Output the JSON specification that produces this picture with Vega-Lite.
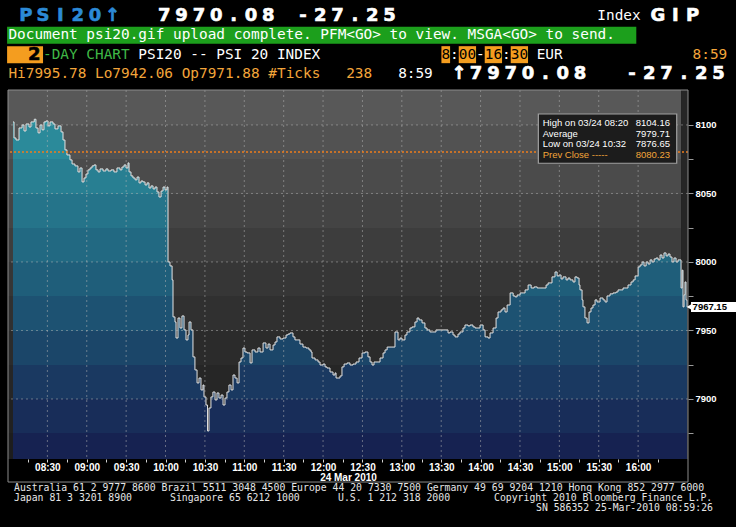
{
"$schema": "https://vega.github.io/schema/vega-lite/v6.json",
"width": 680, "height": 369,
"autosize": {"type": "none"},
"padding": {"left": 8, "top": 90, "right": 48, "bottom": 68},
"background": "#000000",
"config": {
"view": {"stroke": null},
"axisX": {"labelColor": "#ffffff", "labelOpacity": 1, "labelFont": "Liberation Sans", "labelFontSize": 10, "labelFontWeight": "bold", "labelPadding": 0, "tickSize": 3, "tickColor": "#d0d0d0", "domain": false, "titleColor": "#ffffff", "titleFont": "Liberation Sans", "titleFontSize": 10, "titleFontWeight": "bold", "titlePadding": 0, "grid": false},
"axisY": {"labelColor": "#ffffff", "labelFont": "Liberation Sans", "labelFontSize": 9.5, "labelFontWeight": "bold", "labelPadding": 2, "tickSize": 5, "tickColor": "#9a9a9a", "domain": false, "grid": false}
},
"datasets": {
"psi": [
{"t":3.8,"v":8102.2},{"t":4.6,"v":8090.5},{"t":6.1,"v":8089},{"t":8.4,"v":8097.8},{"t":10.7,"v":8100},{"t":12.2,"v":8095.6},{"t":13.7,"v":8100.7},{"t":16,"v":8098.5},{"t":17.5,"v":8102.2},{"t":20,"v":8104.16},{"t":21.3,"v":8097.8},{"t":22.9,"v":8094.2},{"t":24.4,"v":8100},{"t":25.9,"v":8096.4},{"t":27.4,"v":8102.2},{"t":28.9,"v":8102.9},{"t":30.5,"v":8099.3},{"t":32,"v":8102.2},{"t":34.3,"v":8100.7},{"t":35.8,"v":8097.1},{"t":38.1,"v":8099.3},{"t":40.4,"v":8094.9},{"t":41.9,"v":8089},{"t":43.4,"v":8081.8},{"t":44.9,"v":8078.1},{"t":47.2,"v":8074.5},{"t":48.8,"v":8071.5},{"t":51,"v":8070.1},{"t":53.3,"v":8065.7},{"t":54.8,"v":8068.6},{"t":56.4,"v":8058.4},{"t":57.9,"v":8061.3},{"t":59.4,"v":8064.2},{"t":60.9,"v":8067.2},{"t":62.5,"v":8068.6},{"t":64,"v":8070.1},{"t":65.5,"v":8070.8},{"t":67,"v":8067.2},{"t":68.6,"v":8065.7},{"t":70.1,"v":8067.9},{"t":72.4,"v":8066.4},{"t":74.6,"v":8067.9},{"t":76.2,"v":8066.4},{"t":78.5,"v":8067.2},{"t":80.7,"v":8065.7},{"t":83,"v":8068.6},{"t":85.3,"v":8067.2},{"t":86.8,"v":8069.3},{"t":88.4,"v":8070.8},{"t":89.9,"v":8068.6},{"t":91.4,"v":8072.3},{"t":92.2,"v":8065.7},{"t":93.7,"v":8062.8},{"t":95.2,"v":8061.3},{"t":96.8,"v":8059.9},{"t":98.3,"v":8062},{"t":99.8,"v":8057.7},{"t":101.3,"v":8059.1},{"t":102.8,"v":8058.4},{"t":104.4,"v":8056.2},{"t":105.9,"v":8057.7},{"t":107.4,"v":8054},{"t":108.9,"v":8055.5},{"t":110.5,"v":8053.3},{"t":112,"v":8054.7},{"t":113.5,"v":8051.1},{"t":115,"v":8047.4},{"t":116.6,"v":8051.8},{"t":118.1,"v":8054.7},{"t":119.6,"v":8052.6},{"t":121.1,"v":8054.7},{"t":121.9,"v":8000},{"t":123.4,"v":7997.1},{"t":125,"v":7986.9},{"t":125.7,"v":7959.9},{"t":127.2,"v":7956.2},{"t":128,"v":7944.5},{"t":129.5,"v":7959.1},{"t":131,"v":7951.8},{"t":132.5,"v":7960.6},{"t":134.1,"v":7950.4},{"t":135.6,"v":7943.1},{"t":137.1,"v":7946.7},{"t":137.9,"v":7956.2},{"t":139.4,"v":7950.4},{"t":140.9,"v":7930.7},{"t":142.4,"v":7921.2},{"t":144,"v":7911.7},{"t":145.5,"v":7915.3},{"t":147,"v":7906.6},{"t":148.5,"v":7910.2},{"t":149.3,"v":7901.5},{"t":150.8,"v":7895.6},{"t":152,"v":7876.65},{"t":153.1,"v":7893.4},{"t":154.6,"v":7901.5},{"t":156.1,"v":7905.1},{"t":157.7,"v":7899.3},{"t":159.2,"v":7904.4},{"t":160.7,"v":7900.7},{"t":162.3,"v":7902.9},{"t":163.8,"v":7895.6},{"t":165.3,"v":7900.7},{"t":166.8,"v":7905.1},{"t":168.3,"v":7910.2},{"t":169.9,"v":7906.6},{"t":171.4,"v":7917.5},{"t":172.9,"v":7915.3},{"t":174.5,"v":7911.7},{"t":176,"v":7927},{"t":177.5,"v":7929.9},{"t":179,"v":7937.2},{"t":180.5,"v":7934.3},{"t":182.1,"v":7933.6},{"t":184.4,"v":7926.3},{"t":185.9,"v":7935.8},{"t":188.2,"v":7934.3},{"t":190.4,"v":7937.2},{"t":192,"v":7934.3},{"t":194.3,"v":7940.9},{"t":196.5,"v":7937.2},{"t":198.1,"v":7940.1},{"t":199.6,"v":7935.8},{"t":201.9,"v":7939.4},{"t":203.4,"v":7941.6},{"t":204.9,"v":7945.3},{"t":207.2,"v":7943.8},{"t":209.5,"v":7944.5},{"t":211.8,"v":7946.7},{"t":213.3,"v":7947.4},{"t":214.8,"v":7948.2},{"t":217.1,"v":7945.3},{"t":218.6,"v":7943.1},{"t":220.2,"v":7943.1},{"t":222.4,"v":7940.1},{"t":224.7,"v":7937.9},{"t":227,"v":7937.2},{"t":229.3,"v":7935.8},{"t":230.8,"v":7934.3},{"t":231.6,"v":7929.9},{"t":233.9,"v":7928.5},{"t":236.2,"v":7927},{"t":237.7,"v":7924.8},{"t":240,"v":7925.5},{"t":241.5,"v":7923.4},{"t":243,"v":7922.6},{"t":245.3,"v":7919.7},{"t":247.6,"v":7917.5},{"t":249.1,"v":7919},{"t":249.9,"v":7915.3},{"t":251.4,"v":7915.3},{"t":252.9,"v":7916.8},{"t":254.4,"v":7923.4},{"t":256,"v":7925.5},{"t":258.3,"v":7926.3},{"t":260.5,"v":7924.8},{"t":262.8,"v":7925.5},{"t":265.1,"v":7927},{"t":267.4,"v":7929.9},{"t":269.7,"v":7933.6},{"t":272,"v":7934.3},{"t":274.2,"v":7930.7},{"t":275.8,"v":7927},{"t":277.3,"v":7924.8},{"t":278.8,"v":7927},{"t":281.1,"v":7927},{"t":283.4,"v":7929.9},{"t":285.7,"v":7933.6},{"t":287.2,"v":7935.8},{"t":288.8,"v":7937.9},{"t":291,"v":7937.9},{"t":292.5,"v":7937.9},{"t":294.8,"v":7948.9},{"t":297.1,"v":7943.1},{"t":298.6,"v":7944.5},{"t":300.1,"v":7943.1},{"t":302.4,"v":7946.7},{"t":303.9,"v":7948.9},{"t":306.2,"v":7951.8},{"t":307.8,"v":7952.6},{"t":310,"v":7956.2},{"t":311.6,"v":7959.1},{"t":313.1,"v":7957.7},{"t":315.4,"v":7955.5},{"t":317.6,"v":7951.8},{"t":319.2,"v":7950.4},{"t":321.4,"v":7948.9},{"t":323.7,"v":7948.9},{"t":326,"v":7950.4},{"t":329.1,"v":7950.4},{"t":331.4,"v":7950.4},{"t":332.9,"v":7950.4},{"t":335.2,"v":7948.2},{"t":336.7,"v":7948.9},{"t":339,"v":7946.7},{"t":340.5,"v":7945.3},{"t":342.8,"v":7947.4},{"t":344.3,"v":7948.9},{"t":346.6,"v":7951.8},{"t":348.1,"v":7954},{"t":350.4,"v":7953.3},{"t":352,"v":7954},{"t":354.2,"v":7952.6},{"t":355.8,"v":7951.8},{"t":357.3,"v":7951.8},{"t":359.6,"v":7954},{"t":361.9,"v":7950.4},{"t":363.4,"v":7945.3},{"t":365.7,"v":7944.5},{"t":367.2,"v":7948.2},{"t":369.5,"v":7951.8},{"t":371.8,"v":7959.1},{"t":373.3,"v":7963.5},{"t":375.6,"v":7965},{"t":377.1,"v":7966.4},{"t":378.6,"v":7963.5},{"t":380.2,"v":7968.6},{"t":382.5,"v":7977.4},{"t":384.8,"v":7975.2},{"t":386.3,"v":7974.5},{"t":387.8,"v":7975.9},{"t":390.1,"v":7977.4},{"t":392.4,"v":7977.4},{"t":393.9,"v":7979.6},{"t":396.2,"v":7983.2},{"t":398.5,"v":7981},{"t":400.8,"v":7981.8},{"t":403.1,"v":7981},{"t":405.3,"v":7981},{"t":407.6,"v":7981},{"t":409.9,"v":7983.2},{"t":411.4,"v":7984.7},{"t":412.9,"v":7984.7},{"t":414.4,"v":7989.1},{"t":416.7,"v":7992.7},{"t":418.3,"v":7989.8},{"t":419.8,"v":7990.5},{"t":421.3,"v":7987.6},{"t":422.8,"v":7989.1},{"t":425.1,"v":7986.9},{"t":426.6,"v":7988.3},{"t":428.1,"v":7986.9},{"t":430.4,"v":7985.4},{"t":431.9,"v":7989.1},{"t":433.5,"v":7988.3},{"t":435,"v":7983.2},{"t":435.7,"v":7979.6},{"t":437.3,"v":7972.3},{"t":438,"v":7967.2},{"t":439.5,"v":7959.1},{"t":441.1,"v":7955.5},{"t":442.6,"v":7963.5},{"t":444.1,"v":7966.4},{"t":445.6,"v":7968.6},{"t":447.2,"v":7972.3},{"t":448.7,"v":7970.8},{"t":451,"v":7973.7},{"t":453.3,"v":7972.3},{"t":454.8,"v":7970.8},{"t":456.3,"v":7975.2},{"t":458.6,"v":7976.7},{"t":460.9,"v":7977.4},{"t":463.2,"v":7978.1},{"t":464.7,"v":7979.6},{"t":466.2,"v":7979.6},{"t":468.5,"v":7981},{"t":470.8,"v":7981},{"t":472.3,"v":7983.2},{"t":474.6,"v":7985.4},{"t":476.2,"v":7986.9},{"t":477.7,"v":7989.8},{"t":480,"v":7996.4},{"t":481.5,"v":7997.8},{"t":483,"v":8000},{"t":484.5,"v":7997.1},{"t":486.1,"v":8000},{"t":487.6,"v":7998.5},{"t":489.1,"v":8001.5},{"t":490.6,"v":8000},{"t":492.2,"v":8002.2},{"t":493.7,"v":8002.9},{"t":495.2,"v":8001.5},{"t":496.7,"v":8005.1},{"t":498.2,"v":8002.9},{"t":499.7,"v":8006.6},{"t":501.3,"v":8004.4},{"t":502.8,"v":8005.8},{"t":504.3,"v":8003.6},{"t":505.8,"v":8000},{"t":507.3,"v":8002.9},{"t":508.9,"v":8000},{"t":510.4,"v":8001.5},
{"t":512.7,"v":7981},{"t":513.5,"v":7994},{"t":514.2,"v":7967.2},{"t":515,"v":7976},{"t":515.7,"v":7985.4},{"t":516.5,"v":7972.3},{"t":517.3,"v":7967.15}
],
"gridTimes": [{"t":30},{"t":60},{"t":90},{"t":120},{"t":150},{"t":180},{"t":210},{"t":240},{"t":270},{"t":300},{"t":330},{"t":360},{"t":390},{"t":420},{"t":450},{"t":480}],
"gridLevels": [{"v":7900},{"v":7950},{"v":8000},{"v":8050},{"v":8100}],
"info": [
{"irow":1,"label":"High on 03/24 08:20","val":8104.16,"kind":"plain"},
{"irow":2,"label":"Average","val":7979.71,"kind":"plain"},
{"irow":3,"label":"Low on 03/24 10:32","val":7876.65,"kind":"plain"},
{"irow":4,"label":"Prev Close -----","val":8080.23,"kind":"amber"}
],
"hdrBoxes": [
{"line":2,"col":-0.15,"col2":72.5,"kind":"msgbar"},
{"line":3,"col":-0.15,"col2":4,"kind":"hilite"},
{"line":3,"col":50,"col2":51,"kind":"hilite"},
{"line":3,"col":52,"col2":54,"kind":"hilite"},
{"line":3,"col":55,"col2":57,"kind":"hilite"},
{"line":3,"col":58,"col2":60,"kind":"hilite"}
],
"hdrText": [
{"line":1,"col":68,"text":"Index","kind":"plain"},
{"line":2,"col":0,"text":"Document psi20.gif upload complete. PFM<GO> to view. MSGA<GO> to send.","kind":"plain"},
{"line":3,"col":4,"text":"-DAY CHART","kind":"green"},
{"line":3,"col":15,"text":"PSI20 -- PSI 20 INDEX","kind":"plain"},
{"line":3,"col":50,"text":"8","kind":"dark"},
{"line":3,"col":51,"text":":","kind":"plain"},
{"line":3,"col":52,"text":"00","kind":"dark"},
{"line":3,"col":54,"text":"-","kind":"plain"},
{"line":3,"col":55,"text":"16","kind":"dark"},
{"line":3,"col":57,"text":":","kind":"plain"},
{"line":3,"col":58,"text":"30","kind":"dark"},
{"line":3,"col":61,"text":"EUR","kind":"plain"},
{"line":3,"col":79,"text":"8:59","kind":"amber"},
{"line":4,"col":0,"text":"Hi7995.78 Lo7942.06 Op7971.88 #Ticks","kind":"amber"},
{"line":4,"col":39,"text":"238","kind":"amber"},
{"line":4,"col":45,"text":"8:59","kind":"plain"}
],
"hdrBig": [
{"line":1,"col":1,"ch":"P","kind":"ticker"},{"line":1,"col":3,"ch":"S","kind":"ticker"},{"line":1,"col":5,"ch":"I","kind":"ticker"},{"line":1,"col":7,"ch":"2","kind":"ticker"},{"line":1,"col":9,"ch":"0","kind":"ticker"},{"line":1,"col":11,"ch":"↑","kind":"ticker"},
{"line":1,"col":17,"ch":"7","kind":"plain"},{"line":1,"col":19,"ch":"9","kind":"plain"},{"line":1,"col":21,"ch":"7","kind":"plain"},{"line":1,"col":23,"ch":"0","kind":"plain"},{"line":1,"col":25,"ch":".","kind":"plain"},{"line":1,"col":27,"ch":"0","kind":"plain"},{"line":1,"col":29,"ch":"8","kind":"plain"},
{"line":1,"col":33,"ch":"-","kind":"plain"},{"line":1,"col":35,"ch":"2","kind":"plain"},{"line":1,"col":37,"ch":"7","kind":"plain"},{"line":1,"col":39,"ch":".","kind":"plain"},{"line":1,"col":41,"ch":"2","kind":"plain"},{"line":1,"col":43,"ch":"5","kind":"plain"},
{"line":1,"col":74,"ch":"G","kind":"plain"},{"line":1,"col":76,"ch":"I","kind":"plain"},{"line":1,"col":78,"ch":"P","kind":"plain"},
{"line":3,"col":2,"ch":"2","kind":"dark"},
{"line":4,"col":51,"ch":"↑","kind":"plain"},{"line":4,"col":53,"ch":"7","kind":"plain"},{"line":4,"col":55,"ch":"9","kind":"plain"},{"line":4,"col":57,"ch":"7","kind":"plain"},{"line":4,"col":59,"ch":"0","kind":"plain"},{"line":4,"col":61,"ch":".","kind":"plain"},{"line":4,"col":63,"ch":"0","kind":"plain"},{"line":4,"col":65,"ch":"8","kind":"plain"},
{"line":4,"col":71,"ch":"-","kind":"plain"},{"line":4,"col":73,"ch":"2","kind":"plain"},{"line":4,"col":75,"ch":"7","kind":"plain"},{"line":4,"col":77,"ch":".","kind":"plain"},{"line":4,"col":79,"ch":"2","kind":"plain"},{"line":4,"col":81,"ch":"5","kind":"plain"}
],
"footer": [
{"fline":1,"fcol":0,"text":"Australia 61 2 9777 8600 Brazil 5511 3048 4500 Europe 44 20 7330 7500 Germany 49 69 9204 1210 Hong Kong 852 2977 6000"},
{"fline":2,"fcol":0,"text":"Japan 81 3 3201 8900"},
{"fline":2,"fcol":26,"text":"Singapore 65 6212 1000"},
{"fline":2,"fcol":54,"text":"U.S. 1 212 318 2000"},
{"fline":2,"fcol":80,"text":"Copyright 2010 Bloomberg Finance L.P."},
{"fline":3,"fcol":87,"text":"SN 586352 25-Mar-2010 08:59:26"}
]
},
"resolve": {"scale": {"x": "independent", "y": "independent"}},
"layer": [
{
"data": {"name": "psi"},
"resolve": {"axis": {"x": "independent", "y": "independent"}},
"layer": [
{
"data": {"values": [{}]},
"mark": {"type": "rect", "fill": {"gradient": "linear", "x1": 0, "y1": 0, "x2": 0, "y2": 1, "stops": [
{"offset": 0, "color": "#585858"}, {"offset": 0.095, "color": "#585858"},
{"offset": 0.095, "color": "#525252"}, {"offset": 0.187, "color": "#525252"},
{"offset": 0.187, "color": "#4b4b4b"}, {"offset": 0.282, "color": "#4b4b4b"},
{"offset": 0.282, "color": "#444444"}, {"offset": 0.374, "color": "#444444"},
{"offset": 0.374, "color": "#3d3d3d"}, {"offset": 0.466, "color": "#3d3d3d"},
{"offset": 0.466, "color": "#363636"}, {"offset": 0.558, "color": "#363636"},
{"offset": 0.558, "color": "#303030"}, {"offset": 0.653, "color": "#303030"},
{"offset": 0.653, "color": "#2b2b2b"}, {"offset": 0.745, "color": "#2b2b2b"},
{"offset": 0.745, "color": "#262626"}, {"offset": 0.837, "color": "#262626"},
{"offset": 0.837, "color": "#212121"}, {"offset": 0.93, "color": "#212121"},
{"offset": 0.93, "color": "#1d1d1d"}, {"offset": 1, "color": "#1d1d1d"}]}},
"encoding": {
"x": {"datum": 0, "type": "quantitative", "scale": {"domain": [0, 518], "nice": false, "zero": false},
"axis": {
"values": [15,30,45,60,75,90,105,120,135,150,165,180,195,210,225,240,255,270,285,300,315,330,345,360,375,390,405,420,435,450,465,480,495],
"labelExpr": "datum.value % 30 === 0 ? ((floor(datum.value / 60) + 8 < 10 ? '0' : '') + (floor(datum.value / 60) + 8) + ':' + (datum.value % 60 === 0 ? '00' : '30')) : ''",
"labelOverlap": false, "labelFlush": false, "grid": false,
"title": "24 Mar 2010", "zindex": 1}},
"x2": {"datum": 512.7},
"y": {"datum": 8125.5, "type": "quantitative", "scale": {"domain": [7856.2, 8125.5], "nice": false, "zero": false},
"axis": {
"orient": "right",
"values": [7875, 7900, 7925, 7950, 7975, 8000, 8025, 8050, 8075, 8100],
"labelExpr": "datum.value % 50 === 0 ? format(datum.value, 'd') : ''",
"grid": false, "title": null, "zindex": 1}},
"y2": {"datum": 7856.2}
}
},
{
"data": {"values": [{}]},
"mark": {"type": "rect", "fill": "#262626"},
"encoding": {
"x": {"datum": 512.7, "type": "quantitative", "axis": null}, "x2": {"datum": 518},
"y": {"datum": 8125.5, "type": "quantitative", "axis": null}, "y2": {"datum": 7856.2}
}
},
{
"mark": {"type": "area", "interpolate": "step-after", "fill": {"gradient": "linear", "x1": 0, "y1": 0, "x2": 0, "y2": 1, "stops": [
{"offset": 0, "color": "#2e93a1"}, {"offset": 0.017, "color": "#2e93a1"},
{"offset": 0.017, "color": "#2b8a9a"}, {"offset": 0.117, "color": "#2b8a9a"},
{"offset": 0.117, "color": "#287f92"}, {"offset": 0.22, "color": "#287f92"},
{"offset": 0.22, "color": "#25748a"}, {"offset": 0.32, "color": "#25748a"},
{"offset": 0.32, "color": "#226982"}, {"offset": 0.421, "color": "#226982"},
{"offset": 0.421, "color": "#1f5e7a"}, {"offset": 0.521, "color": "#1f5e7a"},
{"offset": 0.521, "color": "#1d5272"}, {"offset": 0.624, "color": "#1d5272"},
{"offset": 0.624, "color": "#1b4669"}, {"offset": 0.724, "color": "#1b4669"},
{"offset": 0.724, "color": "#1a3961"}, {"offset": 0.824, "color": "#1a3961"},
{"offset": 0.824, "color": "#182d59"}, {"offset": 0.924, "color": "#182d59"},
{"offset": 0.924, "color": "#162251"}, {"offset": 1, "color": "#162251"}]}},
"encoding": {
"x": {"field": "t", "type": "quantitative", "axis": null},
"y": {"field": "v", "type": "quantitative", "axis": null},
"y2": {"datum": 7856.2}
}
},
{
"mark": {"type": "line", "interpolate": "step-after", "color": "#e4e4e4", "strokeWidth": 1},
"encoding": {
"x": {"field": "t", "type": "quantitative", "axis": null},
"y": {"field": "v", "type": "quantitative", "axis": null}
}
},
{
"data": {"name": "gridTimes"},
"mark": {"type": "rule", "color": "#b8b8b8", "opacity": 0.5, "strokeDash": [2, 3], "strokeWidth": 1},
"encoding": {"x": {"field": "t", "type": "quantitative", "axis": null}}
},
{
"data": {"name": "gridLevels"},
"mark": {"type": "rule", "color": "#b8b8b8", "opacity": 0.5, "strokeDash": [2, 3], "strokeWidth": 1},
"encoding": {"y": {"field": "v", "type": "quantitative", "axis": null}}
},
{
"data": {"values": [{}]},
"mark": {"type": "rule", "color": "#ee7d1c", "strokeDash": [2, 2], "strokeWidth": 1.5},
"encoding": {"y": {"datum": 8080.23, "type": "quantitative", "axis": null}}
},
{
"data": {"values": [{}]},
"mark": {"type": "rect", "fillOpacity": 0, "stroke": "#8c8c8c", "strokeWidth": 1},
"encoding": {
"x": {"datum": 0, "type": "quantitative", "axis": null}, "x2": {"datum": 518},
"y": {"datum": 8125.5, "type": "quantitative", "axis": null}, "y2": {"datum": 7839.4}
}
},
{
"transform": [{"filter": {"field": "t", "equal": 517.3}}],
"mark": {"type": "rect", "fill": "#ffffff", "yOffset": -5, "y2Offset": 5},
"encoding": {
"x": {"datum": 520.3, "type": "quantitative", "axis": null}, "x2": {"datum": 556},
"y": {"field": "v", "type": "quantitative", "axis": null}, "y2": {"field": "v"}
}
},
{
"transform": [{"filter": {"field": "t", "equal": 517.3}}],
"mark": {"type": "point", "shape": "triangle-left", "filled": true, "color": "#ffffff", "size": 45, "opacity": 1},
"encoding": {
"x": {"datum": 519.2, "type": "quantitative", "axis": null},
"y": {"field": "v", "type": "quantitative", "axis": null}
}
},
{
"transform": [{"filter": {"field": "t", "equal": 517.3}}],
"mark": {"type": "text", "align": "left", "baseline": "middle", "font": "Liberation Sans", "fontWeight": "bold", "fontSize": 9.5, "color": "#000000"},
"encoding": {
"x": {"datum": 521.5, "type": "quantitative", "axis": null},
"y": {"field": "v", "type": "quantitative", "axis": null},
"text": {"field": "v", "type": "quantitative", "format": ".2f"}
}
}
]
},
{
"data": {"name": "info"},
"layer": [
{
"data": {"values": [{}]},
"mark": {"type": "rect", "fill": "#1c1c1c", "stroke": "#a0a0a0", "strokeWidth": 1.2},
"encoding": {
"x": {"datum": 404, "type": "quantitative", "scale": {"domain": [0, 518], "nice": false, "zero": false}, "axis": null}, "x2": {"datum": 509.4},
"y": {"datum": 0.12, "type": "quantitative", "scale": {"domain": [-2.15, 32.76], "reverse": true, "nice": false, "zero": false}, "axis": null}, "y2": {"datum": 4.78}
}
},
{
"mark": {"type": "text", "align": "left", "baseline": "middle", "font": "Liberation Sans", "fontSize": 9.5},
"encoding": {
"x": {"datum": 407.3, "type": "quantitative", "scale": {"domain": [0, 518], "nice": false, "zero": false}, "axis": null},
"y": {"field": "irow", "type": "quantitative", "scale": {"domain": [-2.15, 32.76], "reverse": true, "nice": false, "zero": false}, "axis": null},
"text": {"field": "label"},
"color": {"field": "kind", "type": "nominal", "scale": {"domain": ["ticker","plain","amber","green","dark","msgbar","hilite"], "range": ["#2c8ad6","#ffffff","#f3a53a","#3fb846","#000000","#1c9f1c","#f49d1f"]}, "legend": null}
}
},
{
"mark": {"type": "text", "align": "right", "baseline": "middle", "font": "Liberation Sans", "fontSize": 9.5},
"encoding": {
"x": {"datum": 504.3, "type": "quantitative", "axis": null},
"y": {"field": "irow", "type": "quantitative", "axis": null},
"text": {"field": "val", "type": "quantitative", "format": ".2f"},
"color": {"field": "kind", "type": "nominal", "scale": {"domain": ["ticker","plain","amber","green","dark","msgbar","hilite"], "range": ["#2c8ad6","#ffffff","#f3a53a","#3fb846","#000000","#1c9f1c","#f49d1f"]}, "legend": null}
}
}
]
},
{
"layer": [
{
"data": {"name": "hdrBoxes"},
"mark": {"type": "rect", "yOffset": -8.5, "y2Offset": 8.5},
"encoding": {
"x": {"field": "col", "type": "quantitative", "scale": {"domain": [-0.046, 78.47], "nice": false, "zero": false}, "axis": null},
"x2": {"field": "col2"},
"y": {"field": "line", "type": "quantitative", "scale": {"domain": [4.828, 23.918], "reverse": true, "nice": false, "zero": false}, "axis": null},
"y2": {"field": "line"},
"color": {"field": "kind", "type": "nominal", "scale": {"domain": ["ticker","plain","amber","green","dark","msgbar","hilite"], "range": ["#2c8ad6","#ffffff","#f3a53a","#3fb846","#000000","#1c9f1c","#f49d1f"]}, "legend": null}
}
},
{
"data": {"name": "hdrText"},
"mark": {"type": "text", "align": "left", "baseline": "middle", "font": "DejaVu Sans Mono", "fontSize": 14.4},
"encoding": {
"x": {"field": "col", "type": "quantitative", "axis": null},
"y": {"field": "line", "type": "quantitative", "axis": null},
"text": {"field": "text"},
"color": {"field": "kind", "type": "nominal", "scale": {"domain": ["ticker","plain","amber","green","dark","msgbar","hilite"], "range": ["#2c8ad6","#ffffff","#f3a53a","#3fb846","#000000","#1c9f1c","#f49d1f"]}, "legend": null}
}
},
{
"data": {"name": "hdrBig"},
"mark": {"type": "text", "align": "center", "baseline": "middle", "font": "DejaVu Sans", "fontWeight": "bold", "fontSize": 18, "dx": 8.66, "strokeWidth": 0.6},
"encoding": {
"x": {"field": "col", "type": "quantitative", "axis": null},
"y": {"field": "line", "type": "quantitative", "axis": null},
"text": {"field": "ch"},
"color": {"field": "kind", "type": "nominal", "scale": {"domain": ["ticker","plain","amber","green","dark","msgbar","hilite"], "range": ["#2c8ad6","#ffffff","#f3a53a","#3fb846","#000000","#1c9f1c","#f49d1f"]}, "legend": null},
"stroke": {"field": "kind", "type": "nominal", "scale": {"domain": ["ticker","plain","amber","green","dark","msgbar","hilite"], "range": ["#2c8ad6","#ffffff","#f3a53a","#3fb846","#000000","#1c9f1c","#f49d1f"]}, "legend": null}
}
}
]
},
{
"data": {"name": "footer"},
"mark": {"type": "text", "align": "left", "baseline": "middle", "font": "DejaVu Sans Mono", "fontSize": 9.8, "color": "#e6e6e6"},
"encoding": {
"x": {"field": "fcol", "type": "quantitative", "scale": {"domain": [-1, 112.333], "nice": false, "zero": false}, "axis": null},
"y": {"field": "fline", "type": "quantitative", "scale": {"domain": [-38.8, -1.9], "reverse": true, "nice": false, "zero": false}, "axis": null},
"text": {"field": "text"}
}
}
]
}
